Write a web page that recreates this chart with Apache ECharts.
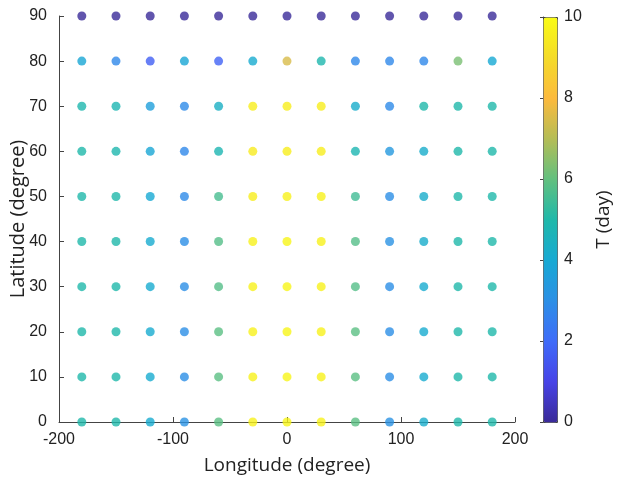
<!DOCTYPE html>
<html>
<head>
<meta charset="utf-8">
<title>T (day)</title>
<script src="https://cdn.jsdelivr.net/npm/echarts@6/dist/echarts.min.js"></script>
<style>
    html, body { margin: 0; padding: 0; background: #fff; }
    #main { width: 620px; height: 484px; }
</style>
</head>
<body>
<div id="main"></div>
<script>
    // grid points
    var lons = [-180, -150, -120, -90, -60, -30, 0, 30, 60, 90, 120, 150, 180];
    var lats = [0, 10, 20, 30, 40, 50, 60, 70, 80, 90];

    // T (day) for each latitude row
    var t0  = [5.0, 5.0, 4.1, 3.1, 5.9, 9.7, 9.8, 9.7, 5.9, 3.1, 4.2, 5.0, 5.0];
    var t10 = [5.0, 5.0, 4.1, 3.0, 5.9, 9.7, 9.8, 9.7, 5.9, 3.0, 4.1, 5.0, 5.0];
    var t20 = [5.0, 5.0, 4.1, 3.0, 5.9, 9.7, 9.8, 9.7, 5.9, 3.0, 4.1, 5.0, 5.0];
    var t30 = [5.0, 5.0, 4.1, 3.0, 5.8, 9.7, 9.8, 9.7, 5.8, 3.0, 4.1, 5.0, 5.0];
    var t40 = [5.0, 5.0, 4.1, 3.0, 5.8, 9.7, 9.8, 9.7, 5.8, 3.1, 4.2, 5.0, 5.0];
    var t50 = [5.0, 5.0, 4.0, 2.9, 5.6, 9.6, 9.7, 9.7, 5.5, 3.0, 4.2, 5.0, 5.0];
    var t60 = [5.0, 4.9, 3.9, 2.8, 4.8, 9.5, 9.6, 9.6, 4.8, 3.4, 4.2, 5.0, 5.0];
    var t70 = [4.9, 4.8, 3.6, 2.9, 4.4, 9.6, 9.6, 9.6, 4.2, 2.9, 5.0, 5.0, 5.0];
    var t80 = [3.9, 2.8, 1.7, 3.9, 1.8, 4.1, 7.5, 4.9, 2.8, 2.8, 2.8, 6.3, 4.0];
    var t90 = [0, 0, 0, 0, 0, 0, 0, 0, 0, 0, 0, 0, 0];
    var rows = [t0, t10, t20, t30, t40, t50, t60, t70, t80, t90];

    // colorbar ticks
    var cbTicks = [0, 2, 4, 6, 8, 10];

    // parula colormap, 11 samples from 0 to 1
    var parula = ['#3A2A98', '#4743E7', '#3F6BF9', '#2C8FE6', '#17A9D3', '#1FB8AA',
                  '#62C07F', '#B4BD56', '#FCBA3D', '#F4DB28', '#F9FB15'];

    var points = [];
    for (var i = 0; i < lats.length; i++) {
        for (var j = 0; j < lons.length; j++) {
            points.push([lons[j], lats[i], rows[i][j]]);
        }
    }

    var numFont = 'Liberation Sans';
    var nameFont = 'Open Sans';

    var myChart = echarts.init(document.getElementById('main'));

    var option = {
        animation: false,
        backgroundColor: '#fff',
        grid: [
            { left: 59, right: 105, top: 16, bottom: 62, containLabel: false, outerBoundsMode: 'none' },
            { left: 543, width: 14, top: 17, height: 405, containLabel: false, outerBoundsMode: 'none' }
        ],
        xAxis: [
            {
                type: 'value', gridIndex: 0,
                min: -200, max: 200, interval: 100,
                name: 'Longitude (degree)', nameLocation: 'middle', nameGap: 34,
                nameMoveOverlap: false,
                nameTextStyle: { fontFamily: nameFont, fontSize: 19, color: '#222' },
                axisLine: { show: true, onZero: false, lineStyle: { color: '#444' } },
                axisTick: { show: true, inside: true, length: 5, lineStyle: { color: '#444' } },
                axisLabel: { fontFamily: numFont, fontSize: 16, color: '#222', margin: 10 },
                splitLine: { show: false }
            },
            { type: 'value', gridIndex: 1, show: false, min: 0, max: 1 }
        ],
        yAxis: [
            {
                type: 'value', gridIndex: 0,
                min: 0, max: 90, interval: 10,
                name: 'Latitude (degree)', nameLocation: 'middle', nameGap: 31,
                nameMoveOverlap: false,
                nameTextStyle: { fontFamily: nameFont, fontSize: 20, color: '#222' },
                axisLine: { show: true, onZero: false, lineStyle: { color: '#444' } },
                axisTick: { show: true, inside: true, length: 5, lineStyle: { color: '#444' } },
                axisLabel: { fontFamily: numFont, fontSize: 16, color: '#222', margin: 12 },
                splitLine: { show: false }
            },
            {
                type: 'value', gridIndex: 1, position: 'right',
                min: cbTicks[0], max: cbTicks[cbTicks.length - 1], interval: 2,
                name: 'T (day)', nameLocation: 'middle', nameGap: 37, nameRotate: 90,
                nameMoveOverlap: false,
                nameTextStyle: { fontFamily: nameFont, fontSize: 19, color: '#222' },
                axisLine: { show: true, lineStyle: { color: '#444' } },
                axisTick: { show: true, inside: true, length: 3, lineStyle: { color: '#444' } },
                axisLabel: { fontFamily: numFont, fontSize: 16, color: '#222', margin: 7 },
                splitLine: { show: false }
            }
        ],
        visualMap: {
            type: 'continuous',
            seriesIndex: 0,
            dimension: 2,
            min: 0, max: 10,
            calculable: false,
            hoverLink: false,
            left: 543, top: 17,
            itemWidth: 14, itemHeight: 405,
            padding: 0,
            borderWidth: 1, borderColor: '#444',
            inRange: { color: parula }
        },
        series: [
            {
                type: 'scatter',
                xAxisIndex: 0, yAxisIndex: 0,
                symbolSize: 9,
                data: points
            }
        ]
    };

    myChart.setOption(option);
</script>
</body>
</html>
